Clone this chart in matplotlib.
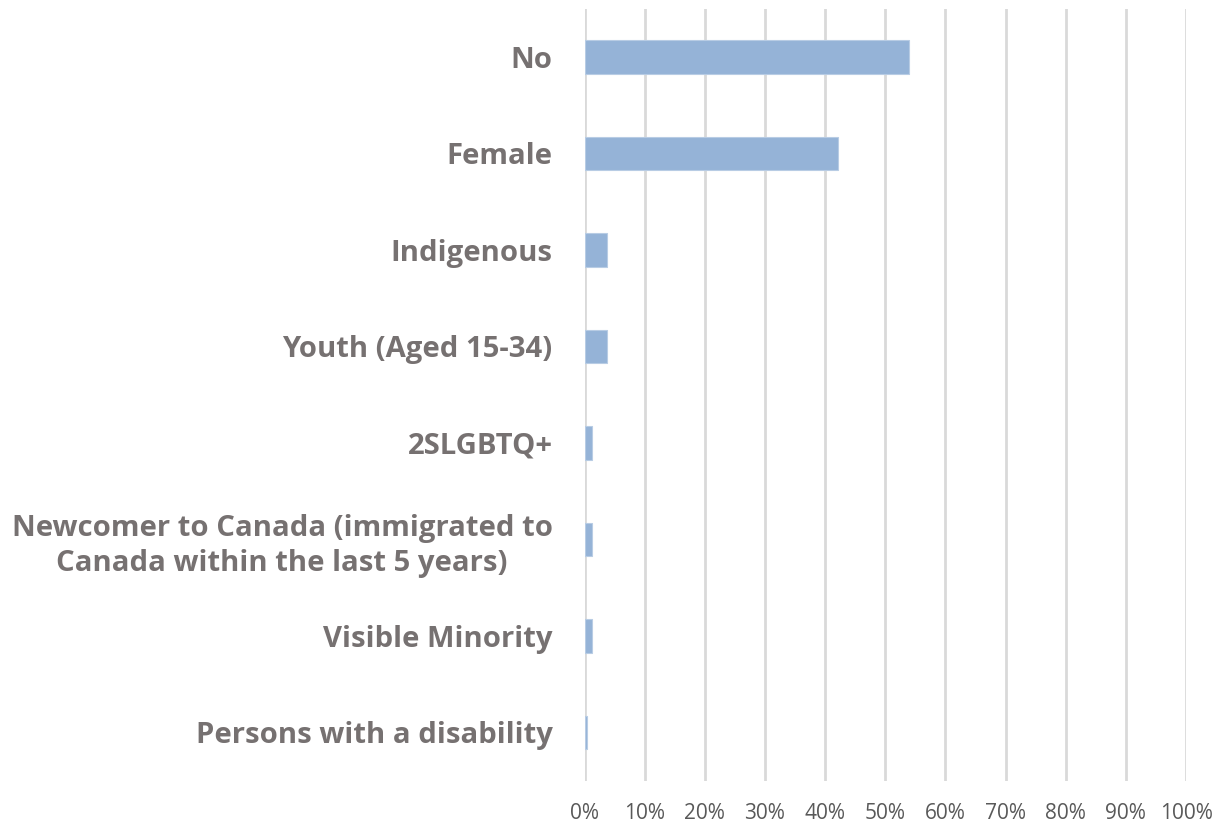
import matplotlib
matplotlib.use("Agg")
import matplotlib.pyplot as plt
import numpy as np

# categories top to bottom, as in the chart
categories = ["No", "Female", "Indigenous", "Youth (Aged 15-34)", "2SLGBTQ+",
              "Newcomer to Canada (immigrated to\nCanada within the last 5 years)",
              "Visible Minority", "Persons with a disability"]
values = [54.0, 42.1, 3.7, 3.7, 1.2, 1.2, 1.2, 0.35]
xticks = [0, 10, 20, 30, 40, 50, 60, 70, 80, 90, 100]

plt.rcParams['font.family'] = ['Open Sans', 'DejaVu Sans']

fig = plt.figure(figsize=(12.31, 8.25), dpi=100)
ax = fig.add_axes([584.5 / 1231, 1 - 780.75 / 825, (1186 - 584.5) / 1231, (780.75 - 8.75) / 825])

y = np.arange(len(categories))
ax.barh(y, values, height=0.35, color='#95b3d7', edgecolor='#b8cce4', linewidth=0.8, zorder=3)
ax.set_ylim(len(categories) - 0.5, -0.5)
ax.set_xlim(0, 100)

ax.set_xticks(xticks)
ax.set_xticklabels([f"{t}%" for t in xticks], fontsize=15, color='#595959')
ax.set_yticks(y)
ax.set_yticklabels(categories, fontsize=21.1, fontweight='bold', color='#767171',
                   linespacing=1.25, multialignment='center')
ax.tick_params(axis='both', length=0)
ax.tick_params(axis='x', pad=16)
ax.tick_params(axis='y', pad=23)

ax.grid(axis='x', color='#d9d9d9', linewidth=2, zorder=0)
for s in ax.spines.values():
    s.set_visible(False)

fig.savefig("out.png", dpi=100)
